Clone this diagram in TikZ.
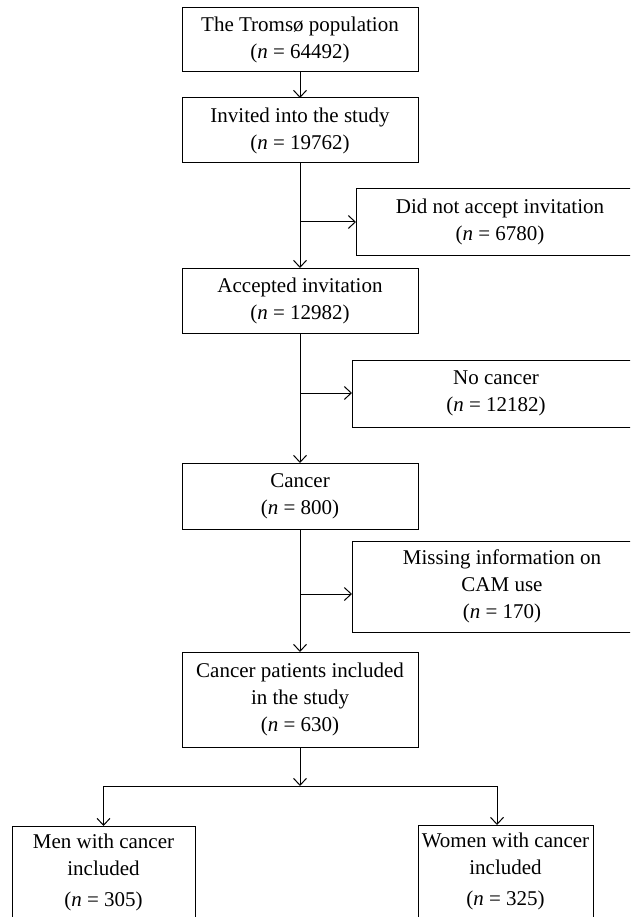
\documentclass[tikz,border=0pt]{standalone}
\usepackage{fontspec}
\setmainfont{Liberation Serif}
\usetikzlibrary{arrows.meta}

\begin{document}
\begin{tikzpicture}[x=1pt,y=-1pt,line width=1pt,>={Straight Barb[length=7pt,width=13pt]}]
	\def \maincol{300}
	\def \splitht{786}
	\tikzstyle{every node}=[font=\fontsize{21}{27}\selectfont]
	\tikzstyle{main-node}=[draw,align=center,minimum width=236pt,inner sep=0pt,outer sep=0pt]
	\tikzstyle{side-node}=[draw,align=center,minimum width=288pt,inner sep=0pt,outer sep=0pt]
	\tikzstyle{sex-node}=[draw,align=center,anchor=north,inner xsep=0pt,inner ysep=8pt,outer sep=0pt]
	\useasboundingbox (0,0) rectangle (630,917);
	\clip (0,0) rectangle (630,917);

	% main column
	\node[main-node,minimum height=64pt] (pop) at (\maincol,40)    {The Tromsø population\\(\textit{n} = 64492)};
	\node[main-node,minimum height=65pt] (inv) at (\maincol,130.5) {Invited into the study\\(\textit{n} = 19762)};
	\node[main-node,minimum height=65pt] (acc) at (\maincol,300.5) {Accepted invitation\\(\textit{n} = 12982)};
	\node[main-node,minimum height=66pt] (can) at (\maincol,496)   {Cancer\\(\textit{n} = 800)};
	\node[main-node,minimum height=95pt] (inc) at (\maincol,699.5) {Cancer patients included\\in the study\\(\textit{n} = 630)};

	% excluded
	\node[side-node,minimum height=66pt] (nacc) at (500,222)   {Did not accept invitation\\(\textit{n} = 6780)};
	\node[side-node,minimum height=67pt] (ncan) at (496,393.5) {No cancer\\(\textit{n} = 12182)};
	\node[side-node,minimum height=91pt,minimum width=300pt] (miss) at (502,586.5) {Missing information on\\CAM use\\(\textit{n} = 170)};

	% men and women
	\node[sex-node,minimum width=183pt] (men)   at (103.5,826) {Men with cancer\\included\\[4pt](\textit{n} = 305)\\[14pt]\mbox{}};
	\node[sex-node,minimum width=175pt] (women) at (505.5,825) {Women with cancer\\included\\[4pt](\textit{n} = 325)\\[14pt]\mbox{}};

	\coordinate (j1) at (\maincol,222);
	\coordinate (j2) at (\maincol,393);
	\coordinate (j3) at (\maincol,594);
	\coordinate (split) at (\maincol,\splitht);
	\coordinate (wtop) at (497,825);

	\path[->]
		(pop)	edge	(inv)
		(inv)	edge	(acc)
		(acc)	edge	(can)
		(can)	edge	(inc)
		(inc)	edge	(split)
		%
		(j1)	edge	(j1 -| nacc.west)
		(j2)	edge	(j2 -| ncan.west)
		(j3)	edge	(j3 -| miss.west);
	\draw[->] (split) -| (men);
	\draw[->] (split) -| (wtop);
\end{tikzpicture}
\end{document}
